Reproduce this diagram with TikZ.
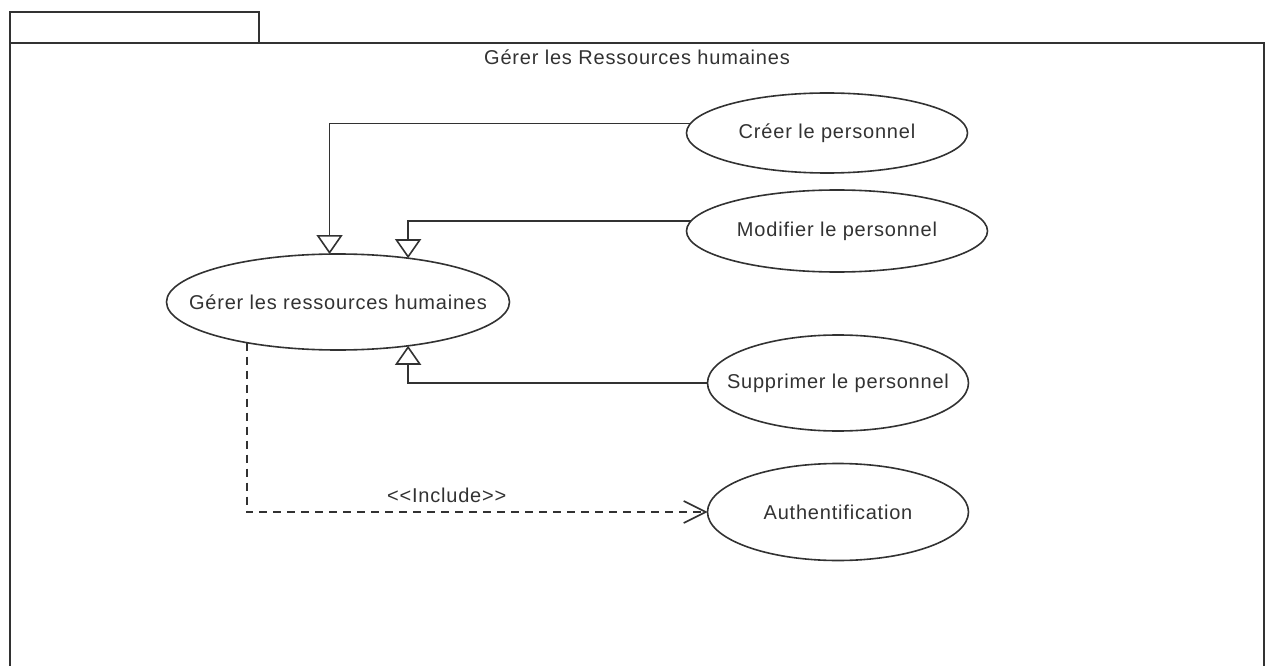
\documentclass[tikz,border=0pt]{standalone}
\usepackage{fontspec}
\setmainfont{Liberation Sans}[LetterSpace=4]
\usetikzlibrary{shapes.geometric,arrows.meta}
\definecolor{ink}{RGB}{50,50,50}
\tikzset{
  uc/.style={draw=ink, line width=1.6pt, ellipse, inner sep=0pt, outer sep=0pt, text=ink, font=\fontsize{20}{24}\selectfont},
  gen/.style={draw=ink, line width=1.6pt, -{Triangle[open, length=19pt, width=26pt, line width=1.6pt]}},
  incl/.style={draw=ink, line width=1.6pt, dash pattern=on 8pt off 6pt, -{Straight Barb[length=22pt, width=22pt, line width=1.6pt]}},
  lbl/.style={text=ink, font=\fontsize{20}{24}\selectfont, inner sep=0pt}
}
\begin{document}
\begin{tikzpicture}[x=1pt,y=-1pt]
\useasboundingbox (0,0) rectangle (1270,666);
% package frame
\draw[ink, line width=1.6pt] (10,43) rectangle (259,12);
\draw[ink, line width=1.6pt] (10,670) -- (10,43) -- (1264,43) -- (1264,670);
\node[lbl] (title) at (637,57) {Gérer les Ressources humaines};
% use cases
\node[uc, minimum width=281pt, minimum height=80pt] (cree) at (827,133) {\makebox[0pt]{Créer le personnel}};
\node[uc, minimum width=301pt, minimum height=82pt] (modif) at (837,231) {\makebox[0pt]{Modifier le personnel}};
\node[uc, minimum width=343pt, minimum height=96pt] (gerer) at (338,302) {\makebox[0pt]{Gérer les ressources humaines}};
\node[uc, minimum width=261pt, minimum height=96pt] (supp) at (838,383) {\makebox[0pt]{Supprimer le personnel}};
\node[uc, minimum width=261pt, minimum height=97pt] (auth) at (838,512) {\makebox[0pt]{Authentification}};
% generalisations
\draw[gen] (cree.176.7) -| (gerer.100.6);
\draw[gen] (modif.176.5) -| (gerer.32);
\draw[gen] (supp.west) -| (gerer.-32);
% include
\draw[incl] (gerer.204.4) |- (auth.west) node[lbl, pos=0.717, above=9pt] {<{}<Include>{}>};
\end{tikzpicture}
\end{document}
